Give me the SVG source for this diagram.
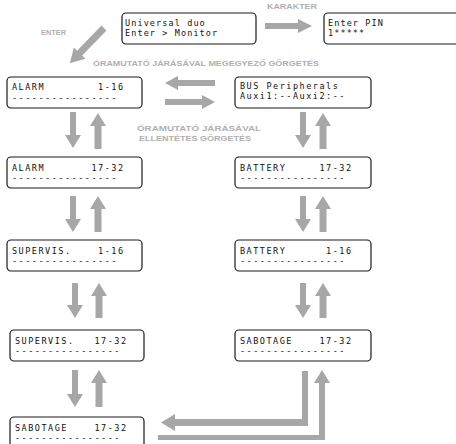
<svg xmlns="http://www.w3.org/2000/svg" width="456" height="444" viewBox="0 0 456 444">
<style>
.box{fill:#fff;stroke:#1a1a1a;stroke-width:1.2}
.lcd{font-family:"DejaVu Sans Mono","Liberation Mono",monospace;font-size:8.5px;letter-spacing:1.5px;white-space:pre;fill:#111}
.lcd2{font-family:"DejaVu Sans Mono","Liberation Mono",monospace;font-size:8.5px;letter-spacing:1.1px;white-space:pre;fill:#111}
.lbl{font-family:"Liberation Sans",Arial,sans-serif;font-weight:bold;font-size:8px;fill:#b0b0b0;text-anchor:middle}
.arr{fill:#a7a7a9}
</style>
<rect width="456" height="444" fill="#fff"/>

<g id="labels">
<text class="lbl" x="53.5" y="35" textLength="25" lengthAdjust="spacingAndGlyphs">ENTER</text>
<text class="lbl" x="292" y="9" textLength="50" lengthAdjust="spacingAndGlyphs">KARAKTER</text>
<text class="lbl" x="206" y="66" textLength="226" lengthAdjust="spacingAndGlyphs">ÓRAMUTATÓ JÁRÁSÁVAL MEGEGYEZŐ GÖRGETÉS</text>
<text class="lbl" x="199" y="131" textLength="124" lengthAdjust="spacingAndGlyphs">ÓRAMUTATÓ JÁRÁSÁVAL</text>
<text class="lbl" x="195" y="141" textLength="112" lengthAdjust="spacingAndGlyphs">ELLENTÉTES GÖRGETÉS</text>
</g>

<g id="connectors">
<polygon class="arr" points="265,23 298,23 298,19 312,26 298,33 298,29 265,29"/>
<polygon class="arr" transform="translate(104,28) rotate(134.2)" points="0,-3.5 35,-3.5 35,-8 49,0 35,8 35,3.5 0,3.5"/>
<polygon class="arr" points="165,83 178,76 178,80 215,80 215,86 178,86 178,90"/>
<polygon class="arr" points="165,99 202,99 202,95 215,102 202,109 202,105 165,105"/>
<polygon class="arr" points="70,112 76,112 76,135 81,135 73,148 65,135 70,135"/>
<polygon class="arr" points="98,113 106,126 101.5,126 101.5,149 94.5,149 94.5,126 90,126"/>
<polygon class="arr" points="70,196 76,196 76,219 81,219 73,232 65,219 70,219"/>
<polygon class="arr" points="98,196 106,209 101.5,209 101.5,232 94.5,232 94.5,209 90,209"/>
<polygon class="arr" points="72,283 78,283 78,305 83,305 75,318 67,305 72,305"/>
<polygon class="arr" points="99,283 107,296 102.5,296 102.5,318 95.5,318 95.5,296 91,296"/>
<polygon class="arr" points="72,370 78,370 78,394 83,394 75,407 67,394 72,394"/>
<polygon class="arr" points="99,370 107,383 102.5,383 102.5,407 95.5,407 95.5,383 91,383"/>
<polygon class="arr" points="300,112 306,112 306,135 311,135 303,148 295,135 300,135"/>
<polygon class="arr" points="323,113 331,126 326.5,126 326.5,149 319.5,149 319.5,126 315,126"/>
<polygon class="arr" points="300,196 306,196 306,219 311,219 303,232 295,219 300,219"/>
<polygon class="arr" points="323,196 331,209 326.5,209 326.5,232 319.5,232 319.5,209 315,209"/>
<polygon class="arr" points="300,283 306,283 306,305 311,305 303,318 295,305 300,305"/>
<polygon class="arr" points="323,283 331,296 326.5,296 326.5,318 319.5,318 319.5,296 315,296"/>
<polygon class="arr" points="302,371 308,371 308,426 175,426 175,431 161,422.5 175,414 175,419 302,419"/>
<polygon class="arr" points="158,435 319,435 319,383 314,383 322,370 330,383 325,383 325,440 158,440"/>
</g>

<g id="node-universal">
<rect class="box" x="122" y="13" width="134" height="31" rx="4"/>
<text class="lcd2" x="125" y="26">Universal duo</text>
<text class="lcd2" x="125" y="36">Enter &gt; Monitor</text>
</g>
<g id="node-pin">
<rect class="box" x="324" y="13" width="140" height="31" rx="4"/>
<text class="lcd2" x="328" y="26">Enter PIN</text>
<text class="lcd2" x="328" y="36">1*****</text>
</g>
<g id="node-alarm1">
<rect class="box" x="7" y="77" width="135" height="31" rx="4"/>
<text class="lcd" x="12" y="90">ALARM        1-16</text>
<text class="lcd" x="12" y="100.5">----------------</text>
</g>
<g id="node-bus">
<rect class="box" x="235" y="77" width="136" height="31" rx="4"/>
<text class="lcd" x="240" y="89">BUS Peripherals</text>
<text class="lcd" x="240" y="99">Auxi1:--Auxi2:--</text>
</g>
<g id="node-alarm2">
<rect class="box" x="7" y="157" width="135" height="31" rx="4"/>
<text class="lcd" x="12" y="171">ALARM       17-32</text>
<text class="lcd" x="12" y="181">----------------</text>
</g>
<g id="node-superv1">
<rect class="box" x="7" y="240" width="135" height="31" rx="4"/>
<text class="lcd" x="12" y="254">SUPERVIS.    1-16</text>
<text class="lcd" x="12" y="264">----------------</text>
</g>
<g id="node-superv2">
<rect class="box" x="10" y="330" width="134" height="31" rx="4"/>
<text class="lcd" x="15" y="344">SUPERVIS.   17-32</text>
<text class="lcd" x="15" y="354">----------------</text>
</g>
<g id="node-sabotage-left">
<rect class="box" x="10" y="417" width="134" height="31" rx="4"/>
<text class="lcd" x="15" y="431">SABOTAGE    17-32</text>
<text class="lcd" x="15" y="441">----------------</text>
</g>
<g id="node-battery2">
<rect class="box" x="235" y="157" width="136" height="31" rx="4"/>
<text class="lcd" x="240" y="171">BATTERY     17-32</text>
<text class="lcd" x="240" y="181">----------------</text>
</g>
<g id="node-battery1">
<rect class="box" x="235" y="240" width="136" height="31" rx="4"/>
<text class="lcd" x="240" y="254">BATTERY      1-16</text>
<text class="lcd" x="240" y="264">----------------</text>
</g>
<g id="node-sabotage-right">
<rect class="box" x="235" y="330" width="136" height="31" rx="4"/>
<text class="lcd" x="240" y="344">SABOTAGE    17-32</text>
<text class="lcd" x="240" y="354">----------------</text>
</g>
</svg>
